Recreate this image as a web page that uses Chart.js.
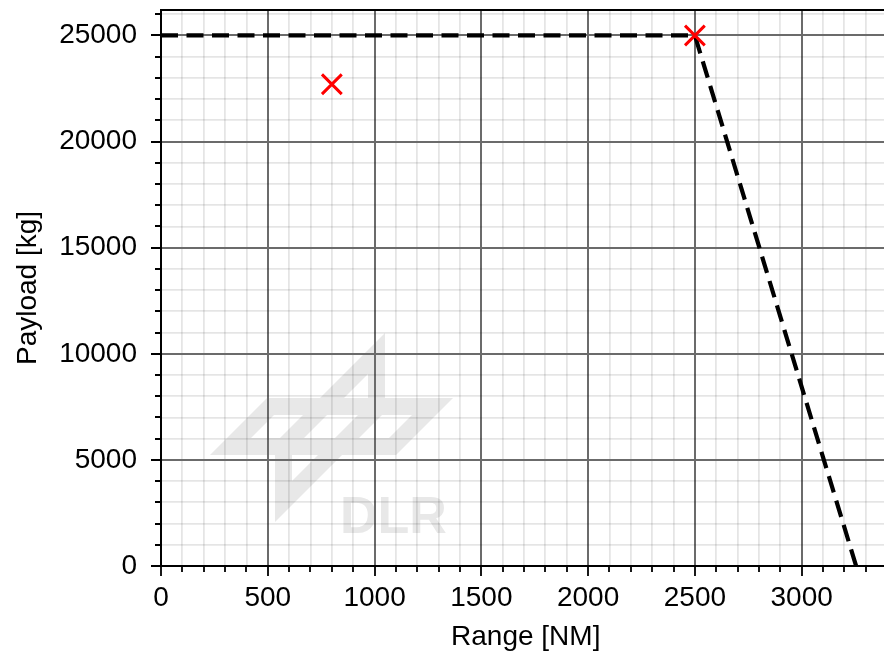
<!DOCTYPE html>
<html>
<head>
<meta charset="utf-8">
<title>Payload-Range</title>
<script src="https://cdn.jsdelivr.net/npm/chart.js@4/dist/chart.umd.min.js"></script>
<style>
  html, body { margin: 0; padding: 0; overflow: hidden; background: #fff; }
  #wrap { width: 900px; height: 654px; position: relative; }
</style>
</head>
<body>
<div id="wrap"><canvas id="c"></canvas></div>
<script>
// Payload-range envelope (max payload, then range-limited by fuel)
const envelopeRange = [0, 2500, 3255];
const envelopePayload = [25000, 25000, 0];

// Design / mission points
const pointRange = [800, 2500];
const pointPayload = [22700, 25000];

// Axis limits and tick spacing
const xLimits = [0, 3416];
const yLimits = [0, 26200];
const xMajor = 500, xMinor = 100;
const yMajor = 5000, yMinor = 1000;

const FONT = '"Liberation Sans", Arial, Helvetica, sans-serif';

const toXY = (xs, ys) => xs.map((x, i) => ({ x: x, y: ys[i] }));

// Evenly spaced ticks from the axis minimum up to its maximum
const stepTicks = (step) => (scale) => {
  const out = [];
  for (let v = Math.ceil(scale.min / step) * step; v <= scale.max; v += step) {
    out.push({ value: v });
  }
  scale.ticks = out;
};

// Watermark logo drawn behind the grid
const watermark = {
  id: 'watermark',
  beforeDraw(chart) {
    const ctx = chart.ctx;
    ctx.save();
    ctx.fillStyle = '#e8e8e8';
    // horizontal parallelogram frame
    ctx.beginPath();
    ctx.moveTo(210, 455); ctx.lineTo(267, 398); ctx.lineTo(453, 398); ctx.lineTo(396, 455); ctx.closePath();
    ctx.moveTo(251, 438); ctx.lineTo(274, 415); ctx.lineTo(412, 415); ctx.lineTo(389, 438); ctx.closePath();
    ctx.fill('evenodd');
    // vertical parallelogram frame
    ctx.beginPath();
    ctx.moveTo(275, 522); ctx.lineTo(275, 443); ctx.lineTo(385, 333); ctx.lineTo(385, 412); ctx.closePath();
    ctx.moveTo(292, 481); ctx.lineTo(292, 450); ctx.lineTo(368, 374); ctx.lineTo(368, 405); ctx.closePath();
    ctx.fill('evenodd');
    ctx.font = 'bold 52px ' + FONT;
    ctx.textAlign = 'left';
    ctx.textBaseline = 'alphabetic';
    ctx.fillText('DLR', 340, 533);
    ctx.restore();
  }
};

// Outward tick marks (long for major, short for minor) and the top spine
const frame = {
  id: 'frame',
  afterDraw(chart) {
    const ctx = chart.ctx;
    const a = chart.chartArea;
    const xs = chart.scales.x, ys = chart.scales.y;
    ctx.save();
    ctx.strokeStyle = '#000';
    ctx.lineWidth = 1.8;
    ctx.beginPath();
    xs.ticks.forEach(t => {
      const px = Math.round(xs.getPixelForValue(t.value));
      const len = (t.value % xMajor === 0) ? 10 : 6;
      ctx.moveTo(px, a.bottom);
      ctx.lineTo(px, a.bottom + len);
    });
    ys.ticks.forEach(t => {
      const py = Math.round(ys.getPixelForValue(t.value));
      const len = (t.value % yMajor === 0) ? 10 : 6;
      ctx.moveTo(a.left, py);
      ctx.lineTo(a.left - len, py);
    });
    ctx.stroke();
    ctx.lineWidth = 2;
    ctx.beginPath();
    ctx.moveTo(a.left - 1, a.top);
    ctx.lineTo(a.right + 1, a.top);
    ctx.moveTo(a.right, a.top);
    ctx.lineTo(a.right, a.bottom);
    ctx.stroke();
    ctx.restore();
  }
};

const gridColor = (major) => (ctx) =>
  (ctx.tick && ctx.tick.value % major === 0) ? '#6b6b6b' : 'rgba(0,0,0,0.10)';
const gridWidth = (major) => (ctx) =>
  (ctx.tick && ctx.tick.value % major === 0) ? 2 : 1.8;

new Chart(document.getElementById('c'), {
  type: 'scatter',
  data: {
    datasets: [
      {
        label: 'Envelope',
        data: toXY(envelopeRange, envelopePayload),
        showLine: true,
        borderColor: '#000',
        borderWidth: 4.2,
        borderDash: [17, 8.5],
        pointRadius: 0,
        pointHoverRadius: 0,
        fill: false,
        order: 2
      },
      {
        label: 'Points',
        data: toXY(pointRange, pointPayload),
        showLine: false,
        pointStyle: 'crossRot',
        pointRadius: 14,
        pointHoverRadius: 14,
        borderColor: '#ff0000',
        backgroundColor: '#ff0000',
        pointBorderWidth: 3,
        order: 1
      }
    ]
  },
  options: {
    responsive: true,
    maintainAspectRatio: false,
    animation: false,
    events: [],
    layout: { autoPadding: false, padding: { top: 10, right: 9.5, left: 0, bottom: 0 } },
    plugins: {
      legend: { display: false },
      tooltip: { enabled: false }
    },
    scales: {
      x: {
        type: 'linear',
        min: xLimits[0],
        max: xLimits[1],
        afterBuildTicks: stepTicks(xMinor),
        afterFit(s) { s.height = 88; s.paddingLeft = 0; s.paddingRight = 0; },
        border: { display: true, color: '#000', width: 2 },
        grid: {
          color: gridColor(xMajor),
          lineWidth: gridWidth(xMajor),
          drawTicks: false
        },
        ticks: {
          autoSkip: false,
          maxRotation: 0,
          padding: 15,
          color: '#000',
          font: { family: FONT, size: 28 },
          callback: (v) => (v % xMajor === 0 ? String(v) : '')
        },
        title: {
          display: true,
          text: 'Range [NM]',
          color: '#000',
          font: { family: FONT, size: 28 },
          padding: { top: 0, bottom: 0 }
        }
      },
      y: {
        type: 'linear',
        min: yLimits[0],
        max: yLimits[1],
        afterBuildTicks: stepTicks(yMinor),
        afterFit(s) { s.width = 161; s.paddingTop = 0; s.paddingBottom = 0; },
        border: { display: true, color: '#000', width: 2 },
        grid: {
          color: gridColor(yMajor),
          lineWidth: gridWidth(yMajor),
          drawTicks: false
        },
        ticks: {
          autoSkip: false,
          padding: 24,
          color: '#000',
          font: { family: FONT, size: 28 },
          callback: (v) => (v % yMajor === 0 ? String(v) : '')
        },
        title: {
          display: true,
          text: 'Payload [kg]',
          color: '#000',
          font: { family: FONT, size: 28 },
          padding: { top: 11, bottom: 0 }
        }
      }
    }
  },
  plugins: [watermark, frame]
});
</script>
</body>
</html>
